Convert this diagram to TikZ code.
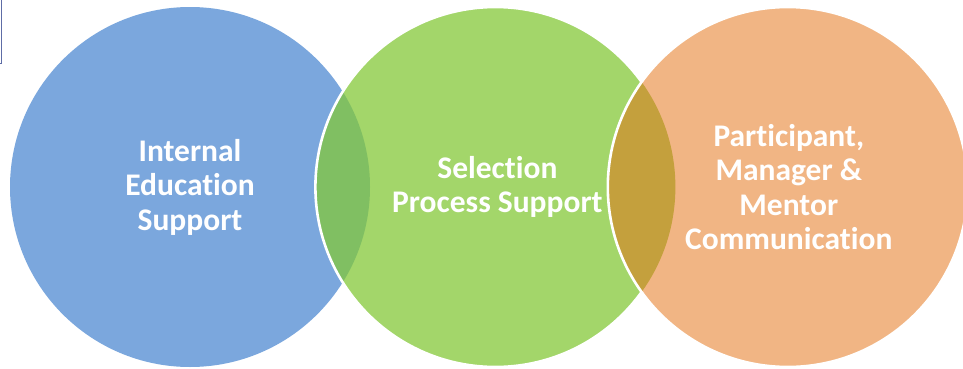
\documentclass[tikz,border=0pt]{standalone}
\usepackage{fontspec}
\setmainfont{Carlito}[Ligatures=NoCommon]
\usetikzlibrary{positioning}
\definecolor{eduBlue}{HTML}{7BA7DD}
\definecolor{selGreen}{HTML}{A3D66A}
\definecolor{commOrange}{HTML}{F1B584}
\definecolor{lensGreen}{HTML}{80BF62}
\definecolor{lensGold}{HTML}{C4A03D}
\definecolor{frameBlue}{HTML}{5E6DA6}
\begin{document}
\begin{tikzpicture}[x=1pt,y=1pt,
        venn/.style={circle, minimum size=360pt, inner sep=0pt},
        rim/.style={draw=white, line width=2.6pt},
        label/.style={text=white, align=center, font=\bfseries\fontsize{31.5}{34.5}\selectfont}]
        \useasboundingbox (0,0) rectangle (963,368);
        \clip (0,0) rectangle (963,368);
        % bit of a frame at the top left
        \draw[frameBlue, line width=0.8pt] (-10,375) rectangle (1.5,305);
        % the three circles
        \node[venn, fill=eduBlue] (edu) at (190,181) {};
        \node[venn, fill=selGreen, right=-55pt of edu] (sel) {};
        \begin{scope}
            \clip (edu.center) circle (180pt);
            \fill[lensGreen] (sel.center) circle (180pt);
        \end{scope}
        \draw[rim] (sel.center) circle (180pt);
        \node[venn, fill=commOrange, right=-68pt of sel] (comm) {};
        \begin{scope}
            \clip (sel.center) circle (180pt);
            \fill[lensGold] (comm.center) circle (180pt);
        \end{scope}
        \draw[rim] (comm.center) circle (180pt);
        % texts
        \node[label] (eduText) at (edu.center) {Internal\\Education\\Support};
        \node[label] (selText) at ([xshift=2pt]sel.center) {Selection\\Process Support};
        \node[label] (commText) at ([xshift=1pt]comm.center) {Participant,\\Manager \&\\Mentor\\Communication};
    \end{tikzpicture}
\end{document}
